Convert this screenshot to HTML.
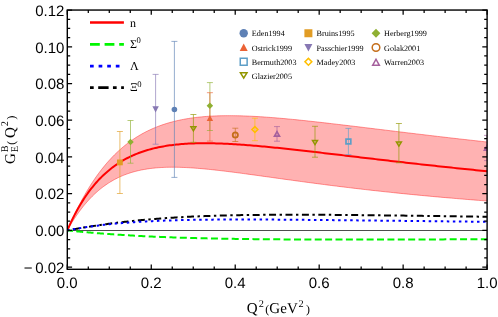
<!DOCTYPE html>
<html><head><meta charset="utf-8"><title>chart</title>
<style>
html,body{margin:0;padding:0;background:#fff;}
body{width:498px;height:317px;position:relative;overflow:hidden;font-family:"Liberation Sans",sans-serif;}
.sans{font-family:"Liberation Sans",sans-serif;font-size:15px;fill:#000;text-rendering:geometricPrecision;}
.serif{font-family:"Liberation Serif",serif;fill:#000;text-rendering:geometricPrecision;}
</style></head><body>
<svg width="498" height="317" viewBox="0 0 498 317" style="position:absolute;left:0;top:0;will-change:transform">
<defs><clipPath id="c"><rect x="67.3" y="10.05" width="419.8" height="259.25"/></clipPath></defs>
<g clip-path="url(#c)">
<path d="M67.30 230.40L67.37 230.25L67.50 229.93L67.68 229.51L67.90 228.99L68.16 228.38L68.46 227.71L68.78 226.96L69.13 226.16L69.51 225.29L69.92 224.38L70.35 223.41L70.80 222.39L71.28 221.33L71.78 220.24L72.30 219.10L72.85 217.92L73.41 216.72L74.00 215.48L74.60 214.21L75.23 212.91L75.87 211.59L76.54 210.25L77.22 208.89L77.92 207.50L78.63 206.10L79.37 204.68L80.12 203.25L80.88 201.80L81.67 200.35L82.47 198.88L83.29 197.40L84.12 195.92L84.97 194.43L85.83 192.94L86.71 191.45L87.61 189.95L88.52 188.45L89.44 186.95L90.38 185.46L91.34 183.96L92.31 182.47L93.29 180.99L94.29 179.51L95.30 178.04L96.32 176.57L97.36 175.12L98.41 173.67L99.48 172.24L100.56 170.81L101.65 169.40L102.76 168.00L103.88 166.61L105.01 165.24L106.15 163.88L107.31 162.53L108.48 161.20L109.66 159.89L110.86 158.60L112.07 157.32L113.29 156.06L114.52 154.81L115.77 153.59L117.02 152.38L118.29 151.19L119.57 150.03L120.86 148.88L122.17 147.75L123.48 146.64L124.81 145.55L126.15 144.48L127.50 143.44L128.87 142.41L130.24 141.41L131.62 140.42L133.02 139.46L134.43 138.51L135.85 137.59L137.28 136.69L138.72 135.81L140.17 134.96L141.63 134.12L143.11 133.30L144.59 132.51L146.09 131.73L147.59 130.98L149.11 130.25L150.64 129.54L152.17 128.85L153.72 128.18L155.28 127.53L156.85 126.90L158.43 126.28L160.02 125.69L161.62 125.12L163.23 124.57L164.85 124.04L166.48 123.52L168.12 123.03L169.78 122.55L171.44 122.10L173.11 121.66L174.79 121.23L176.48 120.83L178.18 120.44L179.89 120.07L181.61 119.72L183.34 119.38L185.08 119.06L186.83 118.76L188.59 118.47L190.36 118.20L192.14 117.95L193.93 117.70L195.73 117.48L197.53 117.27L199.35 117.07L201.18 116.89L203.01 116.72L204.86 116.56L206.71 116.42L208.57 116.29L210.45 116.17L212.33 116.07L214.22 115.98L216.12 115.90L218.03 115.83L219.95 115.77L221.88 115.73L223.81 115.70L225.76 115.67L227.71 115.66L229.68 115.66L231.65 115.67L233.63 115.69L235.62 115.72L237.62 115.75L239.63 115.80L241.65 115.86L243.67 115.92L245.71 115.99L247.75 116.08L249.80 116.17L251.86 116.26L253.93 116.37L256.01 116.48L258.10 116.60L260.19 116.73L262.30 116.87L264.41 117.01L266.53 117.16L268.66 117.31L270.80 117.47L272.94 117.64L275.10 117.81L277.26 117.99L279.43 118.18L281.61 118.37L283.80 118.56L286.00 118.76L288.20 118.97L290.41 119.18L292.64 119.39L294.87 119.61L297.10 119.84L299.35 120.07L301.60 120.30L303.87 120.53L306.14 120.77L308.42 121.02L310.70 121.27L313.00 121.52L315.30 121.77L317.61 122.03L319.93 122.29L322.26 122.55L324.59 122.82L326.93 123.09L329.29 123.36L331.64 123.63L334.01 123.91L336.39 124.19L338.77 124.47L341.16 124.75L343.56 125.04L345.96 125.33L348.38 125.62L350.80 125.91L353.23 126.20L355.67 126.49L358.11 126.79L360.56 127.09L363.02 127.39L365.49 127.69L367.97 127.99L370.45 128.29L372.94 128.60L375.44 128.90L377.95 129.21L380.46 129.52L382.98 129.82L385.51 130.13L388.05 130.44L390.60 130.75L393.15 131.06L395.71 131.38L398.27 131.69L400.85 132.00L403.43 132.31L406.02 132.63L408.62 132.94L411.22 133.25L413.83 133.57L416.45 133.88L419.08 134.20L421.71 134.51L424.35 134.83L427.00 135.14L429.66 135.46L432.32 135.77L434.99 136.08L437.67 136.40L440.35 136.71L443.05 137.03L445.74 137.34L448.45 137.65L451.17 137.97L453.89 138.28L456.62 138.59L459.35 138.91L462.09 139.22L464.84 139.53L467.60 139.84L470.37 140.15L473.14 140.46L475.92 140.77L478.70 141.08L481.49 141.39L484.29 141.70L487.10 142.00L487.10 201.00L484.29 200.79L481.49 200.57L478.70 200.36L475.92 200.14L473.14 199.92L470.37 199.70L467.60 199.48L464.84 199.25L462.09 199.03L459.35 198.80L456.62 198.57L453.89 198.34L451.17 198.11L448.45 197.88L445.74 197.64L443.05 197.41L440.35 197.17L437.67 196.93L434.99 196.69L432.32 196.45L429.66 196.20L427.00 195.95L424.35 195.71L421.71 195.46L419.08 195.21L416.45 194.95L413.83 194.70L411.22 194.44L408.62 194.19L406.02 193.93L403.43 193.67L400.85 193.41L398.27 193.14L395.71 192.88L393.15 192.61L390.60 192.34L388.05 192.07L385.51 191.80L382.98 191.53L380.46 191.26L377.95 190.98L375.44 190.70L372.94 190.43L370.45 190.15L367.97 189.87L365.49 189.58L363.02 189.30L360.56 189.02L358.11 188.73L355.67 188.44L353.23 188.15L350.80 187.86L348.38 187.57L345.96 187.28L343.56 186.99L341.16 186.69L338.77 186.40L336.39 186.10L334.01 185.80L331.64 185.50L329.29 185.21L326.93 184.91L324.59 184.60L322.26 184.30L319.93 184.00L317.61 183.70L315.30 183.40L313.00 183.09L310.70 182.79L308.42 182.48L306.14 182.18L303.87 181.87L301.60 181.57L299.35 181.26L297.10 180.96L294.87 180.65L292.64 180.34L290.41 180.04L288.20 179.73L286.00 179.43L283.80 179.13L281.61 178.82L279.43 178.52L277.26 178.22L275.10 177.92L272.94 177.62L270.80 177.32L268.66 177.02L266.53 176.72L264.41 176.43L262.30 176.13L260.19 175.84L258.10 175.55L256.01 175.26L253.93 174.97L251.86 174.69L249.80 174.41L247.75 174.13L245.71 173.85L243.67 173.58L241.65 173.31L239.63 173.04L237.62 172.77L235.62 172.51L233.63 172.25L231.65 172.00L229.68 171.75L227.71 171.51L225.76 171.27L223.81 171.03L221.88 170.80L219.95 170.57L218.03 170.35L216.12 170.13L214.22 169.92L212.33 169.72L210.45 169.52L208.57 169.33L206.71 169.14L204.86 168.97L203.01 168.79L201.18 168.63L199.35 168.47L197.53 168.33L195.73 168.19L193.93 168.05L192.14 167.93L190.36 167.82L188.59 167.71L186.83 167.61L185.08 167.53L183.34 167.45L181.61 167.39L179.89 167.33L178.18 167.29L176.48 167.26L174.79 167.23L173.11 167.22L171.44 167.23L169.78 167.24L168.12 167.27L166.48 167.31L164.85 167.36L163.23 167.43L161.62 167.51L160.02 167.61L158.43 167.72L156.85 167.84L155.28 167.98L153.72 168.13L152.17 168.30L150.64 168.49L149.11 168.69L147.59 168.91L146.09 169.15L144.59 169.40L143.11 169.67L141.63 169.95L140.17 170.26L138.72 170.58L137.28 170.92L135.85 171.27L134.43 171.65L133.02 172.04L131.62 172.45L130.24 172.89L128.87 173.34L127.50 173.80L126.15 174.29L124.81 174.80L123.48 175.32L122.17 175.87L120.86 176.43L119.57 177.02L118.29 177.62L117.02 178.24L115.77 178.88L114.52 179.54L113.29 180.22L112.07 180.91L110.86 181.63L109.66 182.36L108.48 183.11L107.31 183.88L106.15 184.67L105.01 185.47L103.88 186.29L102.76 187.12L101.65 187.98L100.56 188.84L99.48 189.73L98.41 190.62L97.36 191.53L96.32 192.46L95.30 193.39L94.29 194.34L93.29 195.30L92.31 196.27L91.34 197.25L90.38 198.24L89.44 199.24L88.52 200.24L87.61 201.25L86.71 202.27L85.83 203.29L84.97 204.31L84.12 205.34L83.29 206.37L82.47 207.40L81.67 208.43L80.88 209.45L80.12 210.47L79.37 211.49L78.63 212.50L77.92 213.50L77.22 214.50L76.54 215.48L75.87 216.46L75.23 217.41L74.60 218.36L74.00 219.29L73.41 220.19L72.85 221.08L72.30 221.95L71.78 222.79L71.28 223.60L70.80 224.39L70.35 225.15L69.92 225.87L69.51 226.56L69.13 227.20L68.78 227.81L68.46 228.37L68.16 228.88L67.90 229.33L67.68 229.72L67.50 230.05L67.37 230.28L67.30 230.40Z" fill="rgba(255,0,0,0.3)" stroke="none"/>
<path d="M67.30 230.40L67.37 230.25L67.50 229.93L67.68 229.51L67.90 228.99L68.16 228.38L68.46 227.71L68.78 226.96L69.13 226.16L69.51 225.29L69.92 224.38L70.35 223.41L70.80 222.39L71.28 221.33L71.78 220.24L72.30 219.10L72.85 217.92L73.41 216.72L74.00 215.48L74.60 214.21L75.23 212.91L75.87 211.59L76.54 210.25L77.22 208.89L77.92 207.50L78.63 206.10L79.37 204.68L80.12 203.25L80.88 201.80L81.67 200.35L82.47 198.88L83.29 197.40L84.12 195.92L84.97 194.43L85.83 192.94L86.71 191.45L87.61 189.95L88.52 188.45L89.44 186.95L90.38 185.46L91.34 183.96L92.31 182.47L93.29 180.99L94.29 179.51L95.30 178.04L96.32 176.57L97.36 175.12L98.41 173.67L99.48 172.24L100.56 170.81L101.65 169.40L102.76 168.00L103.88 166.61L105.01 165.24L106.15 163.88L107.31 162.53L108.48 161.20L109.66 159.89L110.86 158.60L112.07 157.32L113.29 156.06L114.52 154.81L115.77 153.59L117.02 152.38L118.29 151.19L119.57 150.03L120.86 148.88L122.17 147.75L123.48 146.64L124.81 145.55L126.15 144.48L127.50 143.44L128.87 142.41L130.24 141.41L131.62 140.42L133.02 139.46L134.43 138.51L135.85 137.59L137.28 136.69L138.72 135.81L140.17 134.96L141.63 134.12L143.11 133.30L144.59 132.51L146.09 131.73L147.59 130.98L149.11 130.25L150.64 129.54L152.17 128.85L153.72 128.18L155.28 127.53L156.85 126.90L158.43 126.28L160.02 125.69L161.62 125.12L163.23 124.57L164.85 124.04L166.48 123.52L168.12 123.03L169.78 122.55L171.44 122.10L173.11 121.66L174.79 121.23L176.48 120.83L178.18 120.44L179.89 120.07L181.61 119.72L183.34 119.38L185.08 119.06L186.83 118.76L188.59 118.47L190.36 118.20L192.14 117.95L193.93 117.70L195.73 117.48L197.53 117.27L199.35 117.07L201.18 116.89L203.01 116.72L204.86 116.56L206.71 116.42L208.57 116.29L210.45 116.17L212.33 116.07L214.22 115.98L216.12 115.90L218.03 115.83L219.95 115.77L221.88 115.73L223.81 115.70L225.76 115.67L227.71 115.66L229.68 115.66L231.65 115.67L233.63 115.69L235.62 115.72L237.62 115.75L239.63 115.80L241.65 115.86L243.67 115.92L245.71 115.99L247.75 116.08L249.80 116.17L251.86 116.26L253.93 116.37L256.01 116.48L258.10 116.60L260.19 116.73L262.30 116.87L264.41 117.01L266.53 117.16L268.66 117.31L270.80 117.47L272.94 117.64L275.10 117.81L277.26 117.99L279.43 118.18L281.61 118.37L283.80 118.56L286.00 118.76L288.20 118.97L290.41 119.18L292.64 119.39L294.87 119.61L297.10 119.84L299.35 120.07L301.60 120.30L303.87 120.53L306.14 120.77L308.42 121.02L310.70 121.27L313.00 121.52L315.30 121.77L317.61 122.03L319.93 122.29L322.26 122.55L324.59 122.82L326.93 123.09L329.29 123.36L331.64 123.63L334.01 123.91L336.39 124.19L338.77 124.47L341.16 124.75L343.56 125.04L345.96 125.33L348.38 125.62L350.80 125.91L353.23 126.20L355.67 126.49L358.11 126.79L360.56 127.09L363.02 127.39L365.49 127.69L367.97 127.99L370.45 128.29L372.94 128.60L375.44 128.90L377.95 129.21L380.46 129.52L382.98 129.82L385.51 130.13L388.05 130.44L390.60 130.75L393.15 131.06L395.71 131.38L398.27 131.69L400.85 132.00L403.43 132.31L406.02 132.63L408.62 132.94L411.22 133.25L413.83 133.57L416.45 133.88L419.08 134.20L421.71 134.51L424.35 134.83L427.00 135.14L429.66 135.46L432.32 135.77L434.99 136.08L437.67 136.40L440.35 136.71L443.05 137.03L445.74 137.34L448.45 137.65L451.17 137.97L453.89 138.28L456.62 138.59L459.35 138.91L462.09 139.22L464.84 139.53L467.60 139.84L470.37 140.15L473.14 140.46L475.92 140.77L478.70 141.08L481.49 141.39L484.29 141.70L487.10 142.00" fill="none" stroke="rgba(255,0,0,0.45)" stroke-width="0.9"/>
<path d="M67.30 230.40L67.37 230.28L67.50 230.05L67.68 229.72L67.90 229.33L68.16 228.88L68.46 228.37L68.78 227.81L69.13 227.20L69.51 226.56L69.92 225.87L70.35 225.15L70.80 224.39L71.28 223.60L71.78 222.79L72.30 221.95L72.85 221.08L73.41 220.19L74.00 219.29L74.60 218.36L75.23 217.41L75.87 216.46L76.54 215.48L77.22 214.50L77.92 213.50L78.63 212.50L79.37 211.49L80.12 210.47L80.88 209.45L81.67 208.43L82.47 207.40L83.29 206.37L84.12 205.34L84.97 204.31L85.83 203.29L86.71 202.27L87.61 201.25L88.52 200.24L89.44 199.24L90.38 198.24L91.34 197.25L92.31 196.27L93.29 195.30L94.29 194.34L95.30 193.39L96.32 192.46L97.36 191.53L98.41 190.62L99.48 189.73L100.56 188.84L101.65 187.98L102.76 187.12L103.88 186.29L105.01 185.47L106.15 184.67L107.31 183.88L108.48 183.11L109.66 182.36L110.86 181.63L112.07 180.91L113.29 180.22L114.52 179.54L115.77 178.88L117.02 178.24L118.29 177.62L119.57 177.02L120.86 176.43L122.17 175.87L123.48 175.32L124.81 174.80L126.15 174.29L127.50 173.80L128.87 173.34L130.24 172.89L131.62 172.45L133.02 172.04L134.43 171.65L135.85 171.27L137.28 170.92L138.72 170.58L140.17 170.26L141.63 169.95L143.11 169.67L144.59 169.40L146.09 169.15L147.59 168.91L149.11 168.69L150.64 168.49L152.17 168.30L153.72 168.13L155.28 167.98L156.85 167.84L158.43 167.72L160.02 167.61L161.62 167.51L163.23 167.43L164.85 167.36L166.48 167.31L168.12 167.27L169.78 167.24L171.44 167.23L173.11 167.22L174.79 167.23L176.48 167.26L178.18 167.29L179.89 167.33L181.61 167.39L183.34 167.45L185.08 167.53L186.83 167.61L188.59 167.71L190.36 167.82L192.14 167.93L193.93 168.05L195.73 168.19L197.53 168.33L199.35 168.47L201.18 168.63L203.01 168.79L204.86 168.97L206.71 169.14L208.57 169.33L210.45 169.52L212.33 169.72L214.22 169.92L216.12 170.13L218.03 170.35L219.95 170.57L221.88 170.80L223.81 171.03L225.76 171.27L227.71 171.51L229.68 171.75L231.65 172.00L233.63 172.25L235.62 172.51L237.62 172.77L239.63 173.04L241.65 173.31L243.67 173.58L245.71 173.85L247.75 174.13L249.80 174.41L251.86 174.69L253.93 174.97L256.01 175.26L258.10 175.55L260.19 175.84L262.30 176.13L264.41 176.43L266.53 176.72L268.66 177.02L270.80 177.32L272.94 177.62L275.10 177.92L277.26 178.22L279.43 178.52L281.61 178.82L283.80 179.13L286.00 179.43L288.20 179.73L290.41 180.04L292.64 180.34L294.87 180.65L297.10 180.96L299.35 181.26L301.60 181.57L303.87 181.87L306.14 182.18L308.42 182.48L310.70 182.79L313.00 183.09L315.30 183.40L317.61 183.70L319.93 184.00L322.26 184.30L324.59 184.60L326.93 184.91L329.29 185.21L331.64 185.50L334.01 185.80L336.39 186.10L338.77 186.40L341.16 186.69L343.56 186.99L345.96 187.28L348.38 187.57L350.80 187.86L353.23 188.15L355.67 188.44L358.11 188.73L360.56 189.02L363.02 189.30L365.49 189.58L367.97 189.87L370.45 190.15L372.94 190.43L375.44 190.70L377.95 190.98L380.46 191.26L382.98 191.53L385.51 191.80L388.05 192.07L390.60 192.34L393.15 192.61L395.71 192.88L398.27 193.14L400.85 193.41L403.43 193.67L406.02 193.93L408.62 194.19L411.22 194.44L413.83 194.70L416.45 194.95L419.08 195.21L421.71 195.46L424.35 195.71L427.00 195.95L429.66 196.20L432.32 196.45L434.99 196.69L437.67 196.93L440.35 197.17L443.05 197.41L445.74 197.64L448.45 197.88L451.17 198.11L453.89 198.34L456.62 198.57L459.35 198.80L462.09 199.03L464.84 199.25L467.60 199.48L470.37 199.70L473.14 199.92L475.92 200.14L478.70 200.36L481.49 200.57L484.29 200.79L487.10 201.00" fill="none" stroke="rgba(255,0,0,0.45)" stroke-width="0.9"/>
<line x1="67.3" y1="230.5" x2="487.1" y2="230.5" stroke="#000" stroke-width="0.7"/>
<path d="M67.30 230.40L67.37 230.25L67.50 229.94L67.68 229.52L67.90 229.01L68.16 228.42L68.46 227.76L68.78 227.03L69.13 226.25L69.51 225.41L69.92 224.53L70.35 223.60L70.80 222.62L71.28 221.61L71.78 220.57L72.30 219.49L72.85 218.39L73.41 217.25L74.00 216.10L74.60 214.92L75.23 213.72L75.87 212.51L76.54 211.28L77.22 210.04L77.92 208.78L78.63 207.52L79.37 206.25L80.12 204.97L80.88 203.69L81.67 202.41L82.47 201.13L83.29 199.84L84.12 198.56L84.97 197.28L85.83 196.00L86.71 194.73L87.61 193.46L88.52 192.20L89.44 190.95L90.38 189.71L91.34 188.48L92.31 187.26L93.29 186.05L94.29 184.85L95.30 183.66L96.32 182.49L97.36 181.33L98.41 180.19L99.48 179.06L100.56 177.95L101.65 176.86L102.76 175.78L103.88 174.71L105.01 173.67L106.15 172.64L107.31 171.63L108.48 170.64L109.66 169.66L110.86 168.71L112.07 167.77L113.29 166.85L114.52 165.95L115.77 165.07L117.02 164.21L118.29 163.37L119.57 162.54L120.86 161.74L122.17 160.96L123.48 160.19L124.81 159.45L126.15 158.72L127.50 158.01L128.87 157.32L130.24 156.65L131.62 156.00L133.02 155.37L134.43 154.75L135.85 154.16L137.28 153.58L138.72 153.02L140.17 152.48L141.63 151.96L143.11 151.45L144.59 150.96L146.09 150.49L147.59 150.04L149.11 149.60L150.64 149.18L152.17 148.78L153.72 148.39L155.28 148.02L156.85 147.66L158.43 147.32L160.02 147.00L161.62 146.69L163.23 146.40L164.85 146.12L166.48 145.85L168.12 145.60L169.78 145.36L171.44 145.14L173.11 144.93L174.79 144.74L176.48 144.55L178.18 144.38L179.89 144.23L181.61 144.08L183.34 143.95L185.08 143.83L186.83 143.72L188.59 143.62L190.36 143.53L192.14 143.46L193.93 143.39L195.73 143.34L197.53 143.30L199.35 143.26L201.18 143.24L203.01 143.22L204.86 143.22L206.71 143.23L208.57 143.24L210.45 143.26L212.33 143.30L214.22 143.34L216.12 143.38L218.03 143.44L219.95 143.51L221.88 143.58L223.81 143.66L225.76 143.75L227.71 143.84L229.68 143.94L231.65 144.05L233.63 144.17L235.62 144.29L237.62 144.42L239.63 144.55L241.65 144.69L243.67 144.84L245.71 144.99L247.75 145.15L249.80 145.31L251.86 145.48L253.93 145.65L256.01 145.83L258.10 146.01L260.19 146.20L262.30 146.39L264.41 146.59L266.53 146.79L268.66 147.00L270.80 147.21L272.94 147.42L275.10 147.64L277.26 147.86L279.43 148.08L281.61 148.31L283.80 148.54L286.00 148.77L288.20 149.01L290.41 149.25L292.64 149.49L294.87 149.74L297.10 149.99L299.35 150.24L301.60 150.49L303.87 150.75L306.14 151.00L308.42 151.26L310.70 151.53L313.00 151.79L315.30 152.06L317.61 152.32L319.93 152.59L322.26 152.87L324.59 153.14L326.93 153.41L329.29 153.69L331.64 153.97L334.01 154.25L336.39 154.53L338.77 154.81L341.16 155.09L343.56 155.38L345.96 155.66L348.38 155.95L350.80 156.23L353.23 156.52L355.67 156.81L358.11 157.10L360.56 157.39L363.02 157.68L365.49 157.97L367.97 158.26L370.45 158.55L372.94 158.84L375.44 159.13L377.95 159.43L380.46 159.72L382.98 160.01L385.51 160.30L388.05 160.60L390.60 160.89L393.15 161.19L395.71 161.48L398.27 161.77L400.85 162.07L403.43 162.36L406.02 162.65L408.62 162.95L411.22 163.24L413.83 163.53L416.45 163.82L419.08 164.12L421.71 164.41L424.35 164.70L427.00 164.99L429.66 165.28L432.32 165.57L434.99 165.86L437.67 166.15L440.35 166.44L443.05 166.73L445.74 167.02L448.45 167.30L451.17 167.59L453.89 167.88L456.62 168.16L459.35 168.45L462.09 168.73L464.84 169.02L467.60 169.30L470.37 169.58L473.14 169.86L475.92 170.14L478.70 170.42L481.49 170.70L484.29 170.98L487.10 171.26" fill="none" stroke="#ff0000" stroke-width="2"/>
<path d="M67.30 230.40L67.37 230.41L67.50 230.42L67.68 230.44L67.90 230.46L68.16 230.49L68.46 230.52L68.78 230.55L69.13 230.59L69.51 230.63L69.92 230.67L70.35 230.71L70.80 230.76L71.28 230.81L71.78 230.86L72.30 230.91L72.85 230.97L73.41 231.02L74.00 231.08L74.60 231.14L75.23 231.20L75.87 231.27L76.54 231.33L77.22 231.40L77.92 231.46L78.63 231.53L79.37 231.60L80.12 231.67L80.88 231.74L81.67 231.82L82.47 231.89L83.29 231.97L84.12 232.04L84.97 232.12L85.83 232.20L86.71 232.28L87.61 232.35L88.52 232.43L89.44 232.51L90.38 232.60L91.34 232.68L92.31 232.76L93.29 232.84L94.29 232.93L95.30 233.01L96.32 233.09L97.36 233.18L98.41 233.26L99.48 233.35L100.56 233.43L101.65 233.52L102.76 233.60L103.88 233.69L105.01 233.77L106.15 233.86L107.31 233.94L108.48 234.03L109.66 234.11L110.86 234.20L112.07 234.28L113.29 234.37L114.52 234.45L115.77 234.54L117.02 234.62L118.29 234.70L119.57 234.79L120.86 234.87L122.17 234.95L123.48 235.04L124.81 235.12L126.15 235.20L127.50 235.28L128.87 235.36L130.24 235.44L131.62 235.52L133.02 235.60L134.43 235.68L135.85 235.76L137.28 235.83L138.72 235.91L140.17 235.98L141.63 236.06L143.11 236.13L144.59 236.21L146.09 236.28L147.59 236.35L149.11 236.43L150.64 236.50L152.17 236.57L153.72 236.64L155.28 236.70L156.85 236.77L158.43 236.84L160.02 236.90L161.62 236.97L163.23 237.03L164.85 237.10L166.48 237.16L168.12 237.22L169.78 237.28L171.44 237.34L173.11 237.40L174.79 237.46L176.48 237.52L178.18 237.58L179.89 237.63L181.61 237.69L183.34 237.74L185.08 237.79L186.83 237.85L188.59 237.90L190.36 237.95L192.14 238.00L193.93 238.04L195.73 238.09L197.53 238.14L199.35 238.19L201.18 238.23L203.01 238.27L204.86 238.32L206.71 238.36L208.57 238.40L210.45 238.44L212.33 238.48L214.22 238.52L216.12 238.56L218.03 238.60L219.95 238.63L221.88 238.67L223.81 238.70L225.76 238.74L227.71 238.77L229.68 238.80L231.65 238.83L233.63 238.87L235.62 238.90L237.62 238.92L239.63 238.95L241.65 238.98L243.67 239.01L245.71 239.03L247.75 239.06L249.80 239.08L251.86 239.11L253.93 239.13L256.01 239.15L258.10 239.17L260.19 239.20L262.30 239.22L264.41 239.24L266.53 239.25L268.66 239.27L270.80 239.29L272.94 239.31L275.10 239.32L277.26 239.34L279.43 239.35L281.61 239.37L283.80 239.38L286.00 239.40L288.20 239.41L290.41 239.42L292.64 239.43L294.87 239.44L297.10 239.45L299.35 239.46L301.60 239.47L303.87 239.48L306.14 239.49L308.42 239.50L310.70 239.51L313.00 239.51L315.30 239.52L317.61 239.53L319.93 239.53L322.26 239.54L324.59 239.54L326.93 239.54L329.29 239.55L331.64 239.55L334.01 239.55L336.39 239.56L338.77 239.56L341.16 239.56L343.56 239.56L345.96 239.56L348.38 239.56L350.80 239.56L353.23 239.56L355.67 239.56L358.11 239.56L360.56 239.56L363.02 239.56L365.49 239.56L367.97 239.55L370.45 239.55L372.94 239.55L375.44 239.54L377.95 239.54L380.46 239.54L382.98 239.53L385.51 239.53L388.05 239.52L390.60 239.52L393.15 239.51L395.71 239.51L398.27 239.50L400.85 239.50L403.43 239.49L406.02 239.49L408.62 239.48L411.22 239.47L413.83 239.47L416.45 239.46L419.08 239.45L421.71 239.44L424.35 239.44L427.00 239.43L429.66 239.42L432.32 239.41L434.99 239.40L437.67 239.40L440.35 239.39L443.05 239.38L445.74 239.37L448.45 239.36L451.17 239.35L453.89 239.34L456.62 239.33L459.35 239.32L462.09 239.31L464.84 239.30L467.60 239.29L470.37 239.28L473.14 239.27L475.92 239.26L478.70 239.25L481.49 239.24L484.29 239.23L487.10 239.22" fill="none" stroke="#00f600" stroke-width="2" stroke-dasharray="7 3.38" stroke-dashoffset="1.4"/>
<path d="M67.30 230.40L67.37 230.39L67.50 230.36L67.68 230.33L67.90 230.29L68.16 230.24L68.46 230.19L68.78 230.13L69.13 230.07L69.51 230.00L69.92 229.92L70.35 229.85L70.80 229.76L71.28 229.68L71.78 229.59L72.30 229.50L72.85 229.40L73.41 229.30L74.00 229.20L74.60 229.09L75.23 228.98L75.87 228.87L76.54 228.75L77.22 228.64L77.92 228.52L78.63 228.39L79.37 228.27L80.12 228.14L80.88 228.01L81.67 227.88L82.47 227.75L83.29 227.61L84.12 227.47L84.97 227.33L85.83 227.19L86.71 227.05L87.61 226.91L88.52 226.76L89.44 226.62L90.38 226.47L91.34 226.32L92.31 226.17L93.29 226.02L94.29 225.87L95.30 225.71L96.32 225.56L97.36 225.41L98.41 225.25L99.48 225.09L100.56 224.94L101.65 224.78L102.76 224.62L103.88 224.47L105.01 224.31L106.15 224.15L107.31 223.99L108.48 223.84L109.66 223.68L110.86 223.52L112.07 223.36L113.29 223.21L114.52 223.05L115.77 222.89L117.02 222.74L118.29 222.58L119.57 222.43L120.86 222.27L122.17 222.12L123.48 221.97L124.81 221.82L126.15 221.66L127.50 221.51L128.87 221.36L130.24 221.22L131.62 221.07L133.02 220.92L134.43 220.78L135.85 220.63L137.28 220.49L138.72 220.35L140.17 220.21L141.63 220.07L143.11 219.93L144.59 219.80L146.09 219.66L147.59 219.53L149.11 219.40L150.64 219.27L152.17 219.14L153.72 219.02L155.28 218.89L156.85 218.77L158.43 218.65L160.02 218.53L161.62 218.41L163.23 218.29L164.85 218.18L166.48 218.07L168.12 217.96L169.78 217.85L171.44 217.74L173.11 217.64L174.79 217.54L176.48 217.43L178.18 217.34L179.89 217.24L181.61 217.14L183.34 217.05L185.08 216.96L186.83 216.87L188.59 216.78L190.36 216.70L192.14 216.61L193.93 216.53L195.73 216.45L197.53 216.38L199.35 216.30L201.18 216.23L203.01 216.16L204.86 216.09L206.71 216.02L208.57 215.95L210.45 215.89L212.33 215.83L214.22 215.77L216.12 215.71L218.03 215.65L219.95 215.60L221.88 215.55L223.81 215.50L225.76 215.45L227.71 215.40L229.68 215.35L231.65 215.31L233.63 215.27L235.62 215.23L237.62 215.19L239.63 215.15L241.65 215.12L243.67 215.09L245.71 215.05L247.75 215.02L249.80 215.00L251.86 214.97L253.93 214.94L256.01 214.92L258.10 214.90L260.19 214.88L262.30 214.86L264.41 214.84L266.53 214.82L268.66 214.81L270.80 214.79L272.94 214.78L275.10 214.77L277.26 214.76L279.43 214.75L281.61 214.75L283.80 214.74L286.00 214.74L288.20 214.73L290.41 214.73L292.64 214.73L294.87 214.73L297.10 214.73L299.35 214.73L301.60 214.74L303.87 214.74L306.14 214.75L308.42 214.76L310.70 214.76L313.00 214.77L315.30 214.78L317.61 214.79L319.93 214.80L322.26 214.82L324.59 214.83L326.93 214.84L329.29 214.86L331.64 214.87L334.01 214.89L336.39 214.91L338.77 214.93L341.16 214.95L343.56 214.97L345.96 214.99L348.38 215.01L350.80 215.03L353.23 215.05L355.67 215.08L358.11 215.10L360.56 215.12L363.02 215.15L365.49 215.17L367.97 215.20L370.45 215.23L372.94 215.25L375.44 215.28L377.95 215.31L380.46 215.34L382.98 215.37L385.51 215.40L388.05 215.43L390.60 215.46L393.15 215.49L395.71 215.52L398.27 215.55L400.85 215.59L403.43 215.62L406.02 215.65L408.62 215.68L411.22 215.72L413.83 215.75L416.45 215.79L419.08 215.82L421.71 215.86L424.35 215.89L427.00 215.93L429.66 215.96L432.32 216.00L434.99 216.03L437.67 216.07L440.35 216.11L443.05 216.14L445.74 216.18L448.45 216.22L451.17 216.26L453.89 216.29L456.62 216.33L459.35 216.37L462.09 216.41L464.84 216.45L467.60 216.48L470.37 216.52L473.14 216.56L475.92 216.60L478.70 216.64L481.49 216.68L484.29 216.72L487.10 216.76" fill="none" stroke="#000" stroke-width="2" stroke-dasharray="2.4 3.51 7 3.51" stroke-dashoffset="0.3"/>
<path d="M67.30 230.40L67.37 230.39L67.50 230.36L67.68 230.33L67.90 230.28L68.16 230.23L68.46 230.18L68.78 230.12L69.13 230.05L69.51 229.98L69.92 229.90L70.35 229.82L70.80 229.74L71.28 229.65L71.78 229.56L72.30 229.47L72.85 229.37L73.41 229.27L74.00 229.16L74.60 229.06L75.23 228.95L75.87 228.84L76.54 228.72L77.22 228.61L77.92 228.49L78.63 228.37L79.37 228.25L80.12 228.12L80.88 228.00L81.67 227.87L82.47 227.75L83.29 227.62L84.12 227.49L84.97 227.36L85.83 227.23L86.71 227.10L87.61 226.97L88.52 226.83L89.44 226.70L90.38 226.57L91.34 226.43L92.31 226.30L93.29 226.17L94.29 226.04L95.30 225.90L96.32 225.77L97.36 225.64L98.41 225.51L99.48 225.37L100.56 225.24L101.65 225.11L102.76 224.98L103.88 224.85L105.01 224.73L106.15 224.60L107.31 224.47L108.48 224.35L109.66 224.23L110.86 224.10L112.07 223.98L113.29 223.86L114.52 223.74L115.77 223.62L117.02 223.51L118.29 223.39L119.57 223.28L120.86 223.17L122.17 223.06L123.48 222.95L124.81 222.84L126.15 222.73L127.50 222.63L128.87 222.53L130.24 222.43L131.62 222.33L133.02 222.23L134.43 222.14L135.85 222.04L137.28 221.95L138.72 221.86L140.17 221.77L141.63 221.69L143.11 221.60L144.59 221.52L146.09 221.44L147.59 221.36L149.11 221.28L150.64 221.21L152.17 221.13L153.72 221.06L155.28 220.99L156.85 220.92L158.43 220.86L160.02 220.79L161.62 220.73L163.23 220.67L164.85 220.61L166.48 220.55L168.12 220.49L169.78 220.44L171.44 220.39L173.11 220.34L174.79 220.29L176.48 220.24L178.18 220.20L179.89 220.15L181.61 220.11L183.34 220.07L185.08 220.03L186.83 220.00L188.59 219.96L190.36 219.93L192.14 219.89L193.93 219.86L195.73 219.83L197.53 219.80L199.35 219.78L201.18 219.75L203.01 219.73L204.86 219.71L206.71 219.69L208.57 219.67L210.45 219.65L212.33 219.63L214.22 219.61L216.12 219.60L218.03 219.59L219.95 219.57L221.88 219.56L223.81 219.55L225.76 219.54L227.71 219.54L229.68 219.53L231.65 219.53L233.63 219.52L235.62 219.52L237.62 219.52L239.63 219.51L241.65 219.51L243.67 219.51L245.71 219.52L247.75 219.52L249.80 219.52L251.86 219.53L253.93 219.53L256.01 219.54L258.10 219.54L260.19 219.55L262.30 219.56L264.41 219.57L266.53 219.58L268.66 219.59L270.80 219.60L272.94 219.61L275.10 219.62L277.26 219.64L279.43 219.65L281.61 219.66L283.80 219.68L286.00 219.69L288.20 219.71L290.41 219.73L292.64 219.74L294.87 219.76L297.10 219.78L299.35 219.80L301.60 219.82L303.87 219.84L306.14 219.86L308.42 219.88L310.70 219.90L313.00 219.92L315.30 219.94L317.61 219.96L319.93 219.99L322.26 220.01L324.59 220.03L326.93 220.05L329.29 220.08L331.64 220.10L334.01 220.13L336.39 220.15L338.77 220.18L341.16 220.20L343.56 220.23L345.96 220.25L348.38 220.28L350.80 220.30L353.23 220.33L355.67 220.36L358.11 220.38L360.56 220.41L363.02 220.44L365.49 220.46L367.97 220.49L370.45 220.52L372.94 220.55L375.44 220.58L377.95 220.60L380.46 220.63L382.98 220.66L385.51 220.69L388.05 220.72L390.60 220.74L393.15 220.77L395.71 220.80L398.27 220.83L400.85 220.86L403.43 220.89L406.02 220.92L408.62 220.95L411.22 220.98L413.83 221.01L416.45 221.04L419.08 221.06L421.71 221.09L424.35 221.12L427.00 221.15L429.66 221.18L432.32 221.21L434.99 221.24L437.67 221.27L440.35 221.30L443.05 221.33L445.74 221.36L448.45 221.39L451.17 221.42L453.89 221.45L456.62 221.48L459.35 221.51L462.09 221.54L464.84 221.57L467.60 221.60L470.37 221.62L473.14 221.65L475.92 221.68L478.70 221.71L481.49 221.74L484.29 221.77L487.10 221.80" fill="none" stroke="#0000ff" stroke-width="2" stroke-dasharray="2.5 3.54" stroke-dashoffset="0.4"/>
<path d="M174.4 41.4V177.4M171.4 41.4H177.4M171.4 177.4H177.4" stroke="#5E81B5" stroke-width="1" fill="none" stroke-opacity="0.65"/>
<path d="M119.9 131.5V193.5M116.9 131.5H122.9M116.9 193.5H122.9" stroke="#E19C24" stroke-width="1" fill="none" stroke-opacity="0.65"/>
<path d="M130.5 120.5V163.2M127.5 120.5H133.5M127.5 163.2H133.5" stroke="#8FB032" stroke-width="1" fill="none" stroke-opacity="0.65"/>
<path d="M209.9 82.6V130.5M206.9 82.6H212.9M206.9 130.5H212.9" stroke="#8FB032" stroke-width="1" fill="none" stroke-opacity="0.65"/>
<path d="M209.9 92.7V141.1M206.9 92.7H212.9M206.9 141.1H212.9" stroke="#EB6235" stroke-width="1" fill="none" stroke-opacity="0.65"/>
<path d="M155.6 74.4V144.2M152.6 74.4H158.6M152.6 144.2H158.6" stroke="#8778B3" stroke-width="1" fill="none" stroke-opacity="0.65"/>
<path d="M235.3 128.2V141.5M232.3 128.2H238.3M232.3 141.5H238.3" stroke="#C56E1A" stroke-width="1" fill="none" stroke-opacity="0.65"/>
<path d="M348.4 128.4V154.6M345.4 128.4H351.4M345.4 154.6H351.4" stroke="#5D9EC7" stroke-width="1" fill="none" stroke-opacity="0.65"/>
<path d="M254.9 118.2V140.7M251.9 118.2H257.9M251.9 140.7H257.9" stroke="#FFBF00" stroke-width="1" fill="none" stroke-opacity="0.65"/>
<path d="M277.0 126.6V141.2M274.0 126.6H280.0M274.0 141.2H280.0" stroke="#A5609D" stroke-width="1" fill="none" stroke-opacity="0.65"/>
<path d="M487.0 135.4V160.6M484.0 135.4H490.0M484.0 160.6H490.0" stroke="#A5609D" stroke-width="1" fill="none" stroke-opacity="0.65"/>
<path d="M193.4 114.5V142.3M190.4 114.5H196.4M190.4 142.3H196.4" stroke="#929600" stroke-width="1" fill="none" stroke-opacity="0.65"/>
<path d="M315.0 126.3V157.2M312.0 126.3H318.0M312.0 157.2H318.0" stroke="#929600" stroke-width="1" fill="none" stroke-opacity="0.65"/>
<path d="M398.9 123.5V162.8M395.9 123.5H401.9M395.9 162.8H401.9" stroke="#929600" stroke-width="1" fill="none" stroke-opacity="0.65"/>
<circle cx="174.4" cy="109.5" r="2.80" fill="#5E81B5"/>
<rect x="117.00" y="159.50" width="5.80" height="5.80" fill="#E19C24"/>
<path d="M130.50 138.85L133.75 142.10L130.50 145.35L127.25 142.10Z" fill="#8FB032"/>
<path d="M209.90 102.45L213.15 105.70L209.90 108.95L206.65 105.70Z" fill="#8FB032"/>
<path d="M209.90 115.00L213.10 121.00L206.70 121.00Z" fill="#EB6235"/>
<path d="M155.60 112.40L158.80 106.30L152.40 106.30Z" fill="#8778B3"/>
<path fill-rule="evenodd" fill="#C56E1A" d="M231.80 135.0a3.50 3.50 0 1 0 7.00 0a3.50 3.50 0 1 0 -7.00 0ZM233.65 135.0a1.65 1.65 0 1 0 3.30 0a1.65 1.65 0 1 0 -3.30 0Z"/>
<path fill-rule="evenodd" fill="#5D9EC7" d="M345.15 138.25L351.65 138.25L351.65 144.75L345.15 144.75ZM346.85 139.95L349.95 139.95L349.95 143.05L346.85 143.05Z"/>
<path fill-rule="evenodd" fill="#FFBF00" d="M254.90 125.45L258.95 129.50L254.90 133.55L250.85 129.50ZM254.90 127.64L256.76 129.50L254.90 131.36L253.04 129.50Z"/>
<path fill-rule="evenodd" fill="#A5609D" d="M277.00 129.90L280.95 136.90L273.05 136.90ZM277.00 133.26L278.12 135.25L275.88 135.25Z"/>
<path fill-rule="evenodd" fill="#A5609D" d="M487.00 143.90L490.95 150.90L483.05 150.90ZM487.00 147.26L488.12 149.25L485.88 149.25Z"/>
<path fill-rule="evenodd" fill="#929600" d="M193.40 132.20L197.20 126.00L189.60 126.00ZM193.40 129.43L194.61 127.45L192.19 127.45Z"/>
<path fill-rule="evenodd" fill="#929600" d="M315.00 146.00L318.80 139.80L311.20 139.80ZM315.00 143.23L316.21 141.25L313.79 141.25Z"/>
<path fill-rule="evenodd" fill="#929600" d="M398.90 147.40L402.70 141.20L395.10 141.20ZM398.90 144.63L400.11 142.65L397.69 142.65Z"/>
</g>
<rect x="67.3" y="10.05" width="419.8" height="259.25" fill="none" stroke="#000" stroke-width="1.4"/>
<path d="M67.30 269.3v-4.8M67.30 10.05v4.8M88.29 269.3v-2.9M88.29 10.05v2.9M109.28 269.3v-2.9M109.28 10.05v2.9M130.27 269.3v-2.9M130.27 10.05v2.9M151.26 269.3v-4.8M151.26 10.05v4.8M172.25 269.3v-2.9M172.25 10.05v2.9M193.24 269.3v-2.9M193.24 10.05v2.9M214.23 269.3v-2.9M214.23 10.05v2.9M235.22 269.3v-4.8M235.22 10.05v4.8M256.21 269.3v-2.9M256.21 10.05v2.9M277.20 269.3v-2.9M277.20 10.05v2.9M298.19 269.3v-2.9M298.19 10.05v2.9M319.18 269.3v-4.8M319.18 10.05v4.8M340.17 269.3v-2.9M340.17 10.05v2.9M361.16 269.3v-2.9M361.16 10.05v2.9M382.15 269.3v-2.9M382.15 10.05v2.9M403.14 269.3v-4.8M403.14 10.05v4.8M424.13 269.3v-2.9M424.13 10.05v2.9M445.12 269.3v-2.9M445.12 10.05v2.9M466.11 269.3v-2.9M466.11 10.05v2.9M487.10 269.3v-4.8M487.10 10.05v4.8M67.3 267.12h4.8M487.1 267.12h-4.8M67.3 257.94h2.9M487.1 257.94h-2.9M67.3 248.76h2.9M487.1 248.76h-2.9M67.3 239.58h2.9M487.1 239.58h-2.9M67.3 230.40h4.8M487.1 230.40h-4.8M67.3 221.22h2.9M487.1 221.22h-2.9M67.3 212.04h2.9M487.1 212.04h-2.9M67.3 202.86h2.9M487.1 202.86h-2.9M67.3 193.68h4.8M487.1 193.68h-4.8M67.3 184.50h2.9M487.1 184.50h-2.9M67.3 175.32h2.9M487.1 175.32h-2.9M67.3 166.14h2.9M487.1 166.14h-2.9M67.3 156.96h4.8M487.1 156.96h-4.8M67.3 147.78h2.9M487.1 147.78h-2.9M67.3 138.60h2.9M487.1 138.60h-2.9M67.3 129.42h2.9M487.1 129.42h-2.9M67.3 120.24h4.8M487.1 120.24h-4.8M67.3 111.06h2.9M487.1 111.06h-2.9M67.3 101.88h2.9M487.1 101.88h-2.9M67.3 92.70h2.9M487.1 92.70h-2.9M67.3 83.52h4.8M487.1 83.52h-4.8M67.3 74.34h2.9M487.1 74.34h-2.9M67.3 65.16h2.9M487.1 65.16h-2.9M67.3 55.98h2.9M487.1 55.98h-2.9M67.3 46.80h4.8M487.1 46.80h-4.8M67.3 37.62h2.9M487.1 37.62h-2.9M67.3 28.44h2.9M487.1 28.44h-2.9M67.3 19.26h2.9M487.1 19.26h-2.9M67.3 10.08h4.8M487.1 10.08h-4.8" stroke="#000" stroke-width="1.25" fill="none"/>
<text x="64.4" y="272.82" text-anchor="end" class="sans">−<tspan dx="2.8">0.02</tspan></text>
<text x="64.4" y="236.10" text-anchor="end" class="sans">0.00</text>
<text x="64.4" y="199.38" text-anchor="end" class="sans">0.02</text>
<text x="64.4" y="162.66" text-anchor="end" class="sans">0.04</text>
<text x="64.4" y="125.94" text-anchor="end" class="sans">0.06</text>
<text x="64.4" y="89.22" text-anchor="end" class="sans">0.08</text>
<text x="64.4" y="52.50" text-anchor="end" class="sans">0.10</text>
<text x="64.4" y="15.78" text-anchor="end" class="sans">0.12</text>
<text x="67.30" y="288.1" text-anchor="middle" class="sans">0.0</text>
<text x="151.26" y="288.1" text-anchor="middle" class="sans">0.2</text>
<text x="235.22" y="288.1" text-anchor="middle" class="sans">0.4</text>
<text x="319.18" y="288.1" text-anchor="middle" class="sans">0.6</text>
<text x="403.14" y="288.1" text-anchor="middle" class="sans">0.8</text>
<text x="487.10" y="288.1" text-anchor="middle" class="sans">1.0</text>
<text y="313.0" class="serif" font-size="15"><tspan x="246.7">Q</tspan><tspan x="269.2" letter-spacing="0.2">GeV</tspan></text>
<text y="306.7" class="serif" font-size="10.3"><tspan x="258.7">2</tspan><tspan x="298.4">2</tspan></text>
<text y="313.0" class="serif" font-size="11.8"><tspan x="265.3">(</tspan><tspan x="305.9">)</tspan></text>
<g transform="translate(14.6,163.95) rotate(-90)">
<text y="0" class="serif" font-size="15"><tspan x="0">G</tspan><tspan x="26.0">Q</tspan></text>
<text class="serif" font-size="10.3"><tspan x="11.65" y="-7.0">B</tspan><tspan x="11.65" y="3.4">E</tspan><tspan x="37.8" y="-6.5">2</tspan></text>
<text y="0" class="serif" font-size="11.8"><tspan x="19.1">(</tspan><tspan x="44.4">)</tspan></text>
</g>
<path d="M90 22.5H123.9" stroke="#ff0000" stroke-width="2.7" fill="none"/>
<path d="M90 44.4H123.9" stroke="#00f600" stroke-width="2.7" fill="none" stroke-dasharray="9.8 4.8"/>
<path d="M90 66.1H123.9" stroke="#0000ff" stroke-width="2.7" fill="none" stroke-dasharray="3.7 4.9"/>
<path d="M90 87.6H123.9" stroke="#000" stroke-width="2.7" fill="none" stroke-dasharray="3.7 4.5 10.4 4.35"/>
<text x="130" y="26.7" class="serif" font-size="12">n</text>
<text x="130" y="47.8" class="serif" font-size="12">Σ<tspan dy="-4.7" dx="-0.5" font-size="8.6">0</tspan></text>
<text x="130" y="69.6" class="serif" font-size="12">Λ</text>
<text x="130" y="91.3" class="serif" font-size="12">Ξ<tspan dy="-4.7" dx="-0.5" font-size="8.6">0</tspan></text>
<circle cx="243.7" cy="33.25" r="4.20" fill="#5E81B5"/>
<text x="251.8" y="36.25" class="serif" font-size="8.15">Eden1994</text>
<rect x="304.40" y="29.25" width="8.00" height="8.00" fill="#E19C24"/>
<text x="316.6" y="36.25" class="serif" font-size="8.15">Bruins1995</text>
<path d="M376.00 28.86L380.39 33.25L376.00 37.64L371.61 33.25Z" fill="#8FB032"/>
<text x="384.1" y="36.25" class="serif" font-size="8.15">Herberg1999</text>
<path d="M243.70 43.58L247.70 51.08L239.70 51.08Z" fill="#EB6235"/>
<text x="251.8" y="50.5" class="serif" font-size="8.15">Ostrick1999</text>
<path d="M308.40 51.55L312.40 43.92L304.40 43.92Z" fill="#8778B3"/>
<text x="316.6" y="50.5" class="serif" font-size="8.15">Passchier1999</text>
<path fill-rule="evenodd" fill="#C56E1A" d="M371.45 47.5a4.55 4.55 0 1 0 9.10 0a4.55 4.55 0 1 0 -9.10 0ZM372.95 47.5a3.05 3.05 0 1 0 6.10 0a3.05 3.05 0 1 0 -6.10 0Z"/>
<text x="384.1" y="50.5" class="serif" font-size="8.15">Golak2001</text>
<path fill-rule="evenodd" fill="#5D9EC7" d="M239.51 57.61L247.89 57.61L247.89 65.99L239.51 65.99ZM241.01 59.11L246.39 59.11L246.39 64.49L241.01 64.49Z"/>
<text x="251.8" y="64.8" class="serif" font-size="8.15">Bermuth2003</text>
<path fill-rule="evenodd" fill="#FFBF00" d="M308.40 57.30L312.90 61.80L308.40 66.30L303.90 61.80ZM308.40 59.43L310.77 61.80L308.40 64.17L306.03 61.80Z"/>
<text x="316.6" y="64.8" class="serif" font-size="8.15">Madey2003</text>
<path fill-rule="evenodd" fill="#A5609D" d="M376.00 57.72L380.60 65.88L371.40 65.88ZM376.00 60.78L378.03 64.38L373.97 64.38Z"/>
<text x="384.1" y="64.8" class="serif" font-size="8.15">Warren2003</text>
<path fill-rule="evenodd" fill="#929600" d="M243.70 79.49L248.34 71.93L239.06 71.93ZM243.70 76.62L245.66 73.43L241.74 73.43Z"/>
<text x="251.8" y="78.8" class="serif" font-size="8.15">Glazier2005</text>
</svg>
</body></html>
